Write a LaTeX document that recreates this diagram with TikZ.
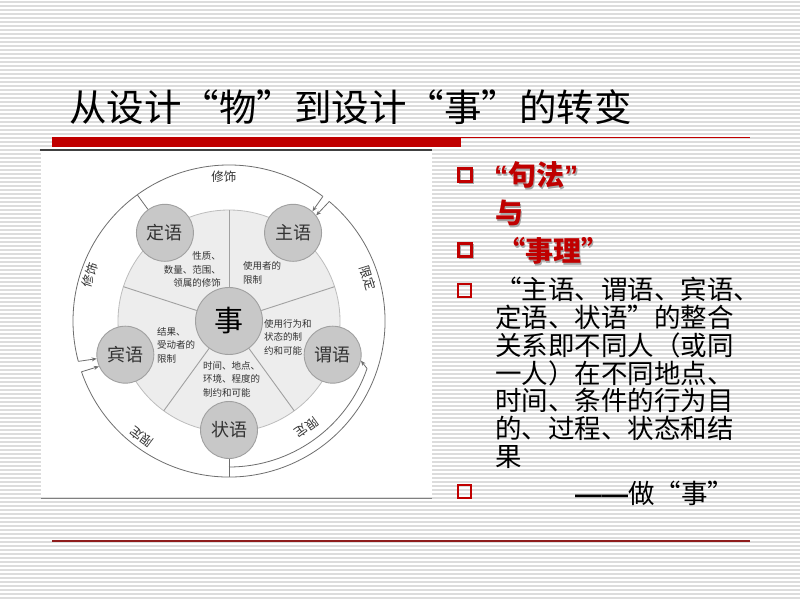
\documentclass[tikz,border=0pt]{standalone}
\usepackage{fontspec}
\setmainfont{Liberation Sans}
\newfontfamily\cjk{Noto Sans CJK SC}
\usetikzlibrary{calc,arrows.meta}
\definecolor{stripec}{HTML}{DCDCDC}
\definecolor{redc}{HTML}{C00000}
\definecolor{darkredc}{HTML}{8E1C1C}
\definecolor{lnc}{HTML}{6E6E6E}
\definecolor{subfill}{HTML}{C8C8C8}
\definecolor{subdraw}{HTML}{A0A0A0}
\definecolor{piefill}{HTML}{EDEDED}
\definecolor{piedraw}{HTML}{BDBDBD}
\definecolor{txtc}{HTML}{333333}
\tikzset{
  stripe/.style={stripec, line width=1.6pt},
  subnode/.style={circle, fill=subfill, draw=subdraw, line width=0.9pt, minimum size=57pt, inner sep=0pt, text=txtc, font=\cjk\fontsize{18}{18}\selectfont},
  centernode/.style={circle, fill=subfill, draw=subdraw, line width=0.9pt, minimum size=67pt, inner sep=0pt, text=black, font=\cjk\fontsize{29}{29}\selectfont},
  sectorline/.style={draw=piedraw!85!black, line width=0.9pt},
  ring/.style={draw=lnc, line width=0.8pt},
  arrowed/.style={ring, -{Stealth[length=5pt,width=4pt]}},
  ringlab/.style={inner sep=0pt, text=txtc, font=\cjk\fontsize{12.5}{12.5}\selectfont},
  sectortext/.style={inner sep=0pt, text=txtc, font=\cjk\fontsize{9.5}{13.5}\selectfont},
  bulbox/.style={rectangle, draw=redc, line width=2.3pt, inner sep=0pt, minimum size=13pt},
  bulshadow/.style={rectangle, draw=black!35, line width=2.3pt, inner sep=0pt, minimum size=13pt},
  headtext/.style={anchor=base west, inner sep=0pt, text=redc, font=\cjk\bfseries\fontsize{28}{28}\selectfont},
  headshadow/.style={anchor=base west, inner sep=0pt, text=black!35, font=\cjk\bfseries\fontsize{28}{28}\selectfont},
  bodytext/.style={anchor=base west, inner sep=0pt, text=black, font=\cjk\fontsize{26.5}{27.7}\selectfont}
}
\newcommand{\latq}[1]{{\rmfamily\bfseries #1}}
\begin{document}
\begin{tikzpicture}[x=1pt,y=1pt]
\useasboundingbox (0,0) rectangle (800,600);
% background with stripes
\fill[white] (0,0) rectangle (800,600);
\foreach \i in {0,...,149} \draw[stripe] (0,\i*4+2) -- (800,\i*4+2);

% title
\node[anchor=base west, inner sep=0pt, font=\cjk\fontsize{37.5}{37.5}\selectfont] (title) at (69,478) {从设计“物”到设计“事”的转变};
\fill[redc] (52,453) rectangle (461,463);
\draw[redc, line width=1pt] (461,462.5) -- (750,462.5);
\draw[darkredc, line width=1.5pt] (52,59) -- (750,59);

% white panel
\fill[white] (41,103) rectangle (432,449);
\draw[black!75, line width=1.2pt] (40,450) -- (432,450);
\draw[black!50, line width=1pt] (41,102) -- (432,102);

% diagram
\coordinate (C) at (229,279);
\fill[piefill] (C) circle[radius=111pt];
\draw[piedraw, line width=0.8pt] (C) circle[radius=111pt];

\node[centernode] (shi) at (C) {事};
\node[subnode] (zhu) at ($(C)+(54:109pt)$) {主语};
\node[subnode] (wei) at ($(C)+(-18:109pt)$) {谓语};
\node[subnode] (zhuang) at ($(C)+(-90:109pt)$) {状语};
\node[subnode] (bin) at ($(C)+(198:109pt)$) {宾语};
\node[subnode] (ding) at ($(C)+(126:109pt)$) {定语};

\foreach \a/\n in {90/p1,18/p2,-54/p3,-126/p4,162/p5} {
  \coordinate (\n) at ($(C)+(\a:111pt)$);
  \draw[sectorline] (shi.\a) -- (\n);
}

% sector texts
\node[sectortext, anchor=east, align=right] (tding) at (221,330.5) {性质、\\数量、范围、\\领属的修饰};
\node[sectortext, anchor=west, align=left] (tzhu) at (243,327) {使用者的\\限制};
\node[sectortext, anchor=west, align=left] (twei) at (264,263) {使用行为和\\状态的制\\约和可能};
\node[sectortext, anchor=west, align=left] (tzhuang) at (203,221) {时间、地点、\\环境、程度的\\制约和可能};
\node[sectortext, anchor=west, align=left] (tbin) at (157,255) {结果、\\受动者的\\限制};

% outer ring
\coordinate (a1s) at ($(C)+(53:156pt)$);
\coordinate (a1e) at ($(C)+(195:156pt)$);
\coordinate (a2s) at ($(C)+(199:156pt)$);
\coordinate (a2e) at ($(C)+(50:156pt)$);
\coordinate (a3s) at ($(C)+(-90:146pt)$);
\coordinate (a3e) at ($(C)+(-19:146pt)$);
\coordinate (dingout) at ($(C)+(126:156pt)$);
\coordinate (zhuangout) at ($(C)+(-90:156pt)$);
\draw[ring] (a1s) arc[start angle=53, end angle=195, radius=156pt];
\draw[ring] (a2s) arc[start angle=199, end angle=410, radius=156pt];
\draw[ring] (a3s) arc[start angle=-90, end angle=-19, radius=146pt];
\draw[ring] (ding.126) -- (dingout);
\draw[ring] (zhuang.south) -- (zhuangout);
\draw[arrowed] (a1s) -- (zhu.48);
\draw[arrowed] (a2e) -- (zhu.37);
\draw[arrowed] (a1e) -- (bin.188);
\draw[arrowed] (a2s) -- (bin.204);
\draw[arrowed] (a3e) -- (wei.-12);

% ring labels
\node[ringlab] (lxs1) at ($(C)+(92:144pt)$) {修饰};
\node[ringlab, rotate=71.7] (lxs2) at ($(C)+(161.7:146pt)$) {修饰};
\node[ringlab, rotate=-72.8] (lxd1) at ($(C)+(17.2:145.5pt)$) {限定};
\node[ringlab, rotate=-143.9] (lxd2) at ($(C)+(-53.9:132pt)$) {限定};
\node[ringlab, rotate=143.1] (lxd3) at ($(C)+(-126.9:145pt)$) {限定};

% right column
\node[bulshadow] (bs1) at (466.5,423.5) {};
\node[bulbox] (b1) at (465,425) {};
\node[bulshadow] (bs2) at (466.5,348.5) {};
\node[bulbox] (b2) at (465,350) {};
\node[bulbox, line width=2pt, minimum size=13pt] (b3) at (464.5,309.5) {};
\node[bulbox, line width=2pt, minimum size=13pt] (b4) at (464.5,108.5) {};

\node[headshadow] (h1s) at (495.5,412.5) {\latq{“}句法\latq{”}};
\node[headtext] (h1) at (494,414) {\latq{“}句法\latq{”}};
\node[headshadow] (h2s) at (496.5,374.5) {与};
\node[headtext] (h2) at (495,376) {与};
\node[headshadow] (h3s) at (498.5,336.5) {“事理”};
\node[headtext] (h3) at (497,338) {“事理”};

\node[bodytext] (body) at (495,300) {\parbox[t]{300pt}{\raggedright “主语、谓语、宾语、\\定语、状语”的整合\\关系即不同人（或同\\一人）在不同地点、\\时间、条件的行为目\\的、过程、状态和结\\果}};
\node[bodytext] (zuo) at (575,97) {{\rmfamily\bfseries ——}做“事”};
\end{tikzpicture}
\end{document}
